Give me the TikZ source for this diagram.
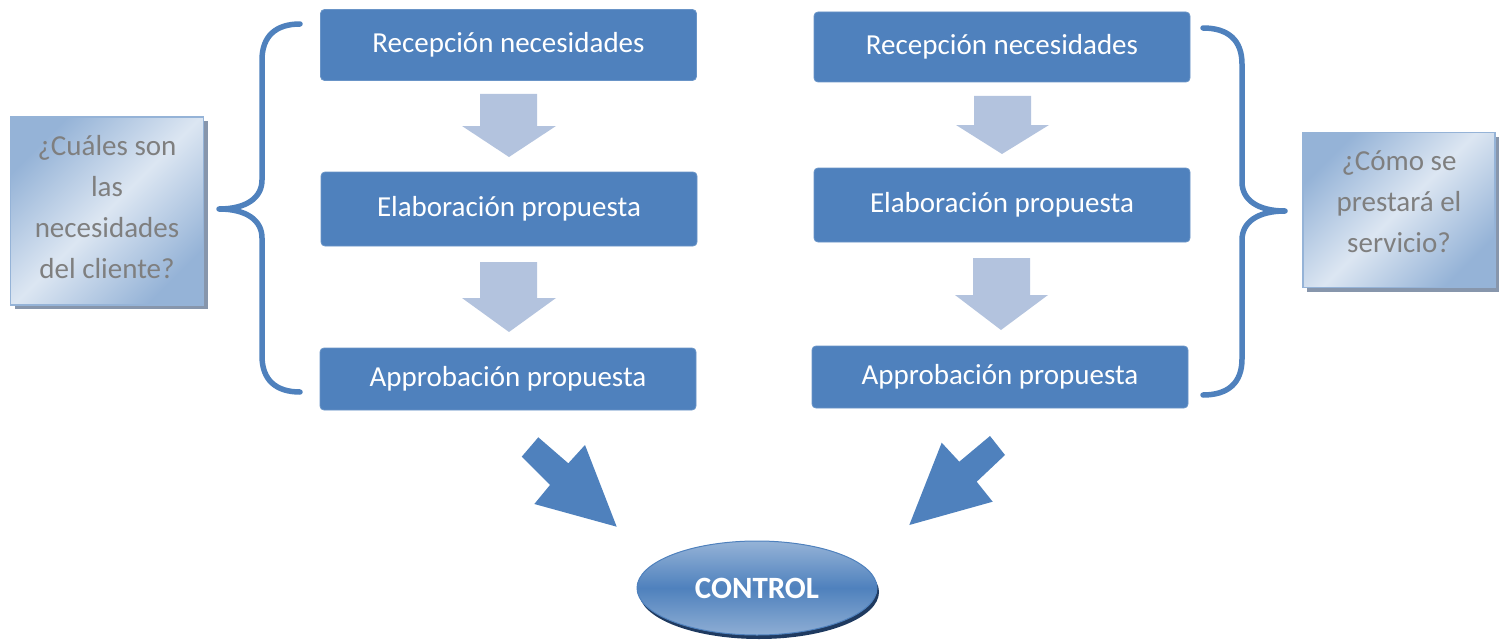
\documentclass[tikz,border=0pt]{standalone}
\usepackage{fontspec}
\setmainfont{Carlito}
\usetikzlibrary{shapes.geometric,shadows}
\definecolor{boxblue}{HTML}{4F81BD}
\definecolor{lightarrow}{HTML}{B3C3DE}
\definecolor{qlight}{HTML}{DCE6F2}
\definecolor{qdark}{HTML}{95B3D7}
\definecolor{qtext}{HTML}{7F7F7F}
\definecolor{qshadow}{HTML}{8796AC}
\definecolor{ctrlshadow}{HTML}{1F3A60}
\tikzset{
  stepbox/.style={rectangle, rounded corners=4pt, fill=boxblue, draw=boxblue!85!white, line width=0.8pt,
    minimum width=376pt, text=white, inner sep=0pt,
    font=\fontsize{29}{35}\selectfont},
  qbox/.style={rectangle, draw=qdark, line width=1.5pt, inner sep=0pt,
    text=qtext, font=\fontsize{29}{41}\selectfont,
    shading=axis, top color=qdark, bottom color=qdark, middle color=qlight, shading angle=45,
    drop shadow={shadow xshift=4pt, shadow yshift=-4pt, fill=qshadow, opacity=1}},
  flowarrow/.style={fill=lightarrow},
  bigarrow/.style={fill=boxblue},
  bracestyle/.style={draw=boxblue, line width=5.5pt, line cap=round, line join=round},
  ctrl/.style={ellipse, minimum width=240pt, minimum height=94pt, inner sep=0pt,
    draw=boxblue, line width=1pt, shading=axis, top color=qdark, bottom color=qdark!90!boxblue, middle color=boxblue,
    text=white, font=\fontsize{31}{35}\selectfont\bfseries,
    drop shadow={shadow xshift=2pt, shadow yshift=-4pt, fill=ctrlshadow, opacity=1}}
}
\newcommand{\qlines}[2]{\raisebox{#1}[0pt][0pt]{\begin{tabular}{@{}c@{}}#2\end{tabular}}}
\begin{document}
\begin{tikzpicture}[x=1pt,y=-1pt]
\useasboundingbox (0,0) rectangle (1508,642);
% left column
\node[stepbox, minimum height=71pt] (L1) at (508.5,45) {Recepción necesidades};
\node[stepbox, minimum height=74pt] (L2) at (509,209) {Elaboración propuesta};
\node[stepbox, minimum height=62pt] (L3) at (508,379) {Approbación propuesta};
% right column
\node[stepbox, minimum height=70pt] (R1) at (1002,47) {Recepción necesidades};
\node[stepbox, minimum height=74pt] (R2) at (1002,205) {Elaboración propuesta};
\node[stepbox, minimum height=62pt] (R3) at (1000,377) {Approbación propuesta};
% flow arrows
\fill[flowarrow] (480,94) -- (537,94) -- (537,126) -- (556,126) -- (509,157) -- (462,126) -- (480,126) -- cycle;
\fill[flowarrow] (480,262) -- (537,262) -- (537,298) -- (556,298) -- (509,332) -- (462,298) -- (480,298) -- cycle;
\fill[flowarrow] (974,96) -- (1031,96) -- (1031,125) -- (1049,125) -- (1002,154) -- (956,125) -- (974,125) -- cycle;
\fill[flowarrow] (973,258) -- (1030,258) -- (1030,295) -- (1048,295) -- (1001,330) -- (955,295) -- (973,295) -- cycle;
% question boxes
\node[qbox, minimum width=193pt, minimum height=188pt] (QL) at (107,211) {\qlines{-4pt}{¿Cuáles son\\las\\necesidades\\del cliente?}};
\node[qbox, minimum width=192pt, minimum height=155pt] (QR) at (1399,210) {\qlines{0pt}{¿Cómo se\\prestará el\\servicio?}};
% braces
\coordinate (LBtop) at (300,24);
\coordinate (LBtip) at (219,209);
\coordinate (LBbot) at (300,392);
\draw[bracestyle] (LBtop) .. controls (276,24) and (262,36) .. (262,60) -- (262,180)
  .. controls (262,198) and (246,209) .. (LBtip)
  .. controls (246,209) and (262,220) .. (262,238) -- (262,356)
  .. controls (262,380) and (276,392) .. (LBbot);
\coordinate (RBtop) at (1203,28);
\coordinate (RBtip) at (1285,211);
\coordinate (RBbot) at (1203,395);
\draw[bracestyle] (RBtop) .. controls (1228,28) and (1242,40) .. (1242,64) -- (1242,182)
  .. controls (1242,200) and (1258,211) .. (RBtip)
  .. controls (1258,211) and (1242,222) .. (1242,240) -- (1242,359)
  .. controls (1242,383) and (1228,395) .. (RBbot);
% control
\node[ctrl] (C) at (757,588) {CONTROL};
% big arrows
\fill[bigarrow] (538.3,437.3) -- (568.3,463.3) -- (585,445) -- (616.7,526.7) -- (534.3,504) -- (550,485) -- (521.7,456.7) -- cycle;
\fill[bigarrow] (990,436) -- (1005,455) -- (976.7,481.7) -- (992.7,501.7) -- (909.3,525) -- (941.7,442.7) -- (959.3,461.7) -- cycle;
\end{tikzpicture}
\end{document}
